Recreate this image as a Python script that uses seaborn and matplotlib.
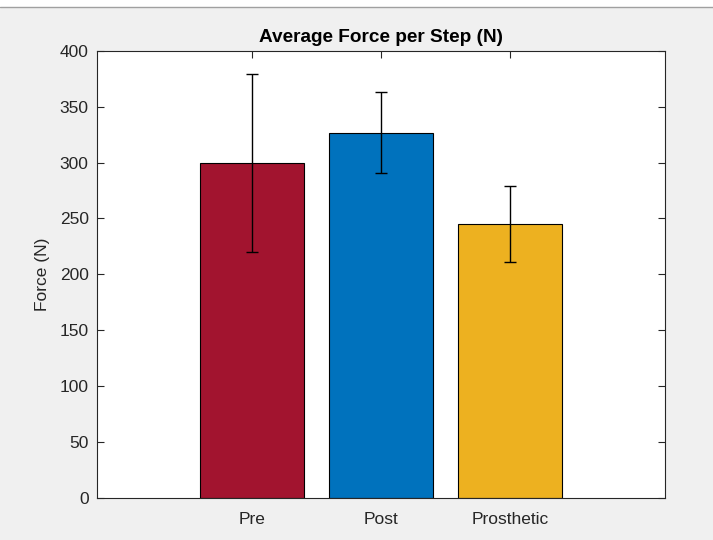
import matplotlib
matplotlib.use("Agg")
import matplotlib.pyplot as plt
import seaborn as sns
import pandas as pd
from matplotlib.patches import Rectangle
from matplotlib.lines import Line2D

categories = ["Pre", "Post", "Prosthetic"]
means = [300, 326.5, 245.2]
errors = [79.6, 36.2, 34.1]
colors = ["#A2142F", "#0072BD", "#EDB120"]
yticks = [0, 50, 100, 150, 200, 250, 300, 350, 400]

sns.set_style("white")
plt.rcParams["font.family"] = ["Liberation Sans", "DejaVu Sans"]

fig = plt.figure(figsize=(7.13, 5.40), dpi=100, facecolor="#f0f0f0")
ax = fig.add_axes([97 / 713, 1 - 498 / 540, (665 - 97) / 713, (498 - 50.7) / 540])

# white strip at the top of the window
fig.patches.append(Rectangle((0, 1 - 7 / 540), 1, 7 / 540, transform=fig.transFigure,
                             facecolor="white", edgecolor="none", zorder=0))
fig.lines.append(Line2D([0, 1], [1 - 7 / 540, 1 - 7 / 540], transform=fig.transFigure,
                        color="#a0a0a0", lw=1))

df = pd.DataFrame({"cat": categories, "val": means})
sns.barplot(data=df, x="cat", y="val", hue="cat", palette=colors, order=categories,
            width=0.8, edgecolor="black", linewidth=0.8, legend=False, ax=ax,
            saturation=1)
ax.errorbar(range(len(categories)), means, yerr=errors, fmt="none", ecolor="black",
            elinewidth=1.0, capsize=4.3, capthick=1.0, zorder=5)

ax.set_xlim(-1.2, 3.2)
ax.set_ylim(0, 400)
ax.set_yticks(yticks)
ax.set_facecolor("white")
ax.set_title("Average Force per Step (N)", fontsize=13.7, fontweight="bold", color="black", pad=6)
ax.set_ylabel("Force (N)", fontsize=12.5, color="#262626", labelpad=7)
ax.set_xlabel("")
for s in ax.spines.values():
    s.set_visible(True)
    s.set_color("#262626")
    s.set_linewidth(0.8)
ax.tick_params(axis="both", direction="in", length=5, width=0.8, color="#262626",
               labelcolor="#262626", labelsize=12.5, top=True, right=True, left=True, bottom=True)
ax.tick_params(axis="x", pad=10)
ax.tick_params(axis="y", pad=6)

fig.savefig("out.png", dpi=100, facecolor=fig.get_facecolor())
